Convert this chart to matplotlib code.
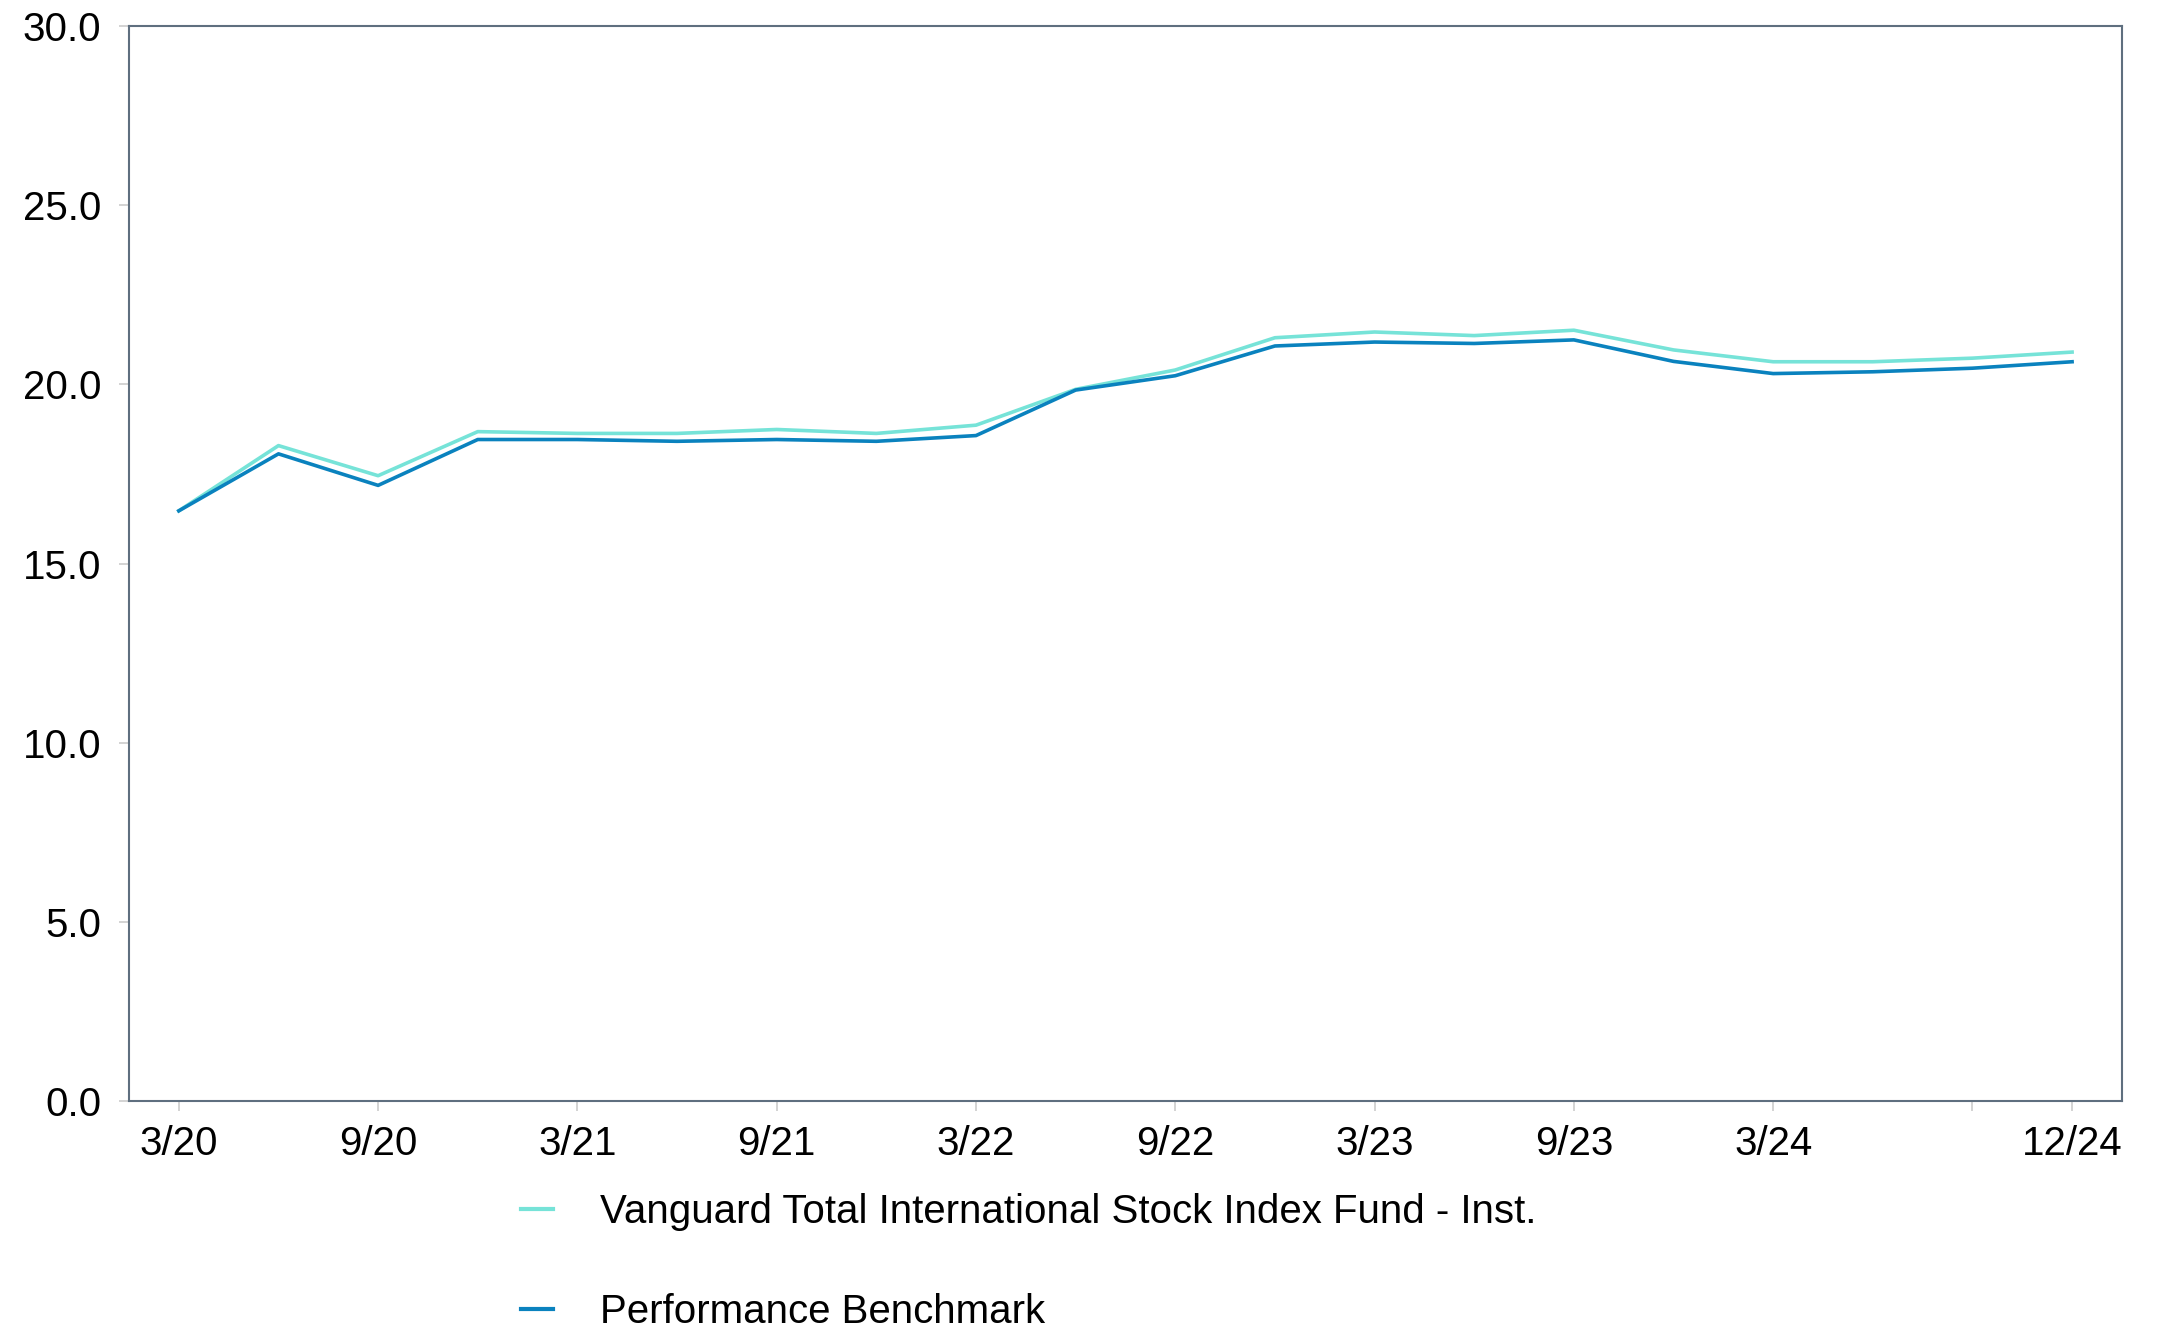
import matplotlib
matplotlib.use('Agg')
import matplotlib.pyplot as plt
import numpy as np

plt.rcParams['font.family'] = ['Liberation Sans', 'DejaVu Sans']

quarters = ['3/20', '6/20', '9/20', '12/20', '3/21', '6/21', '9/21', '12/21',
            '3/22', '6/22', '9/22', '12/22', '3/23', '6/23', '9/23', '12/23',
            '3/24', '6/24', '9/24', '12/24']
fund = [16.47, 18.29, 17.45, 18.68, 18.63, 18.63, 18.74, 18.63, 18.86, 19.86,
        20.40, 21.30, 21.46, 21.36, 21.51, 20.96, 20.63, 20.63, 20.73, 20.90]
bench = [16.47, 18.06, 17.18, 18.46, 18.46, 18.41, 18.46, 18.41, 18.57, 19.84,
         20.24, 21.07, 21.18, 21.14, 21.24, 20.64, 20.30, 20.35, 20.45, 20.63]
tick_labels = ['3/20', '9/20', '3/21', '9/21', '3/22', '9/22', '3/23', '9/23', '3/24', '', '12/24']
tick_idx = [0, 2, 4, 6, 8, 10, 12, 14, 16, 18, 19]

fund_color = '#76E3D8'
bench_color = '#0A82BE'
spine_color = '#5F6F7F'

fig = plt.figure(figsize=(21.79, 13.32), dpi=100)
ax = fig.add_axes([0.0592, 0.1734, 0.9146, 0.8071])

x = np.arange(len(quarters))
ax.plot(x, fund, color=fund_color, lw=2.6, label='Vanguard Total International Stock Index Fund - Inst.')
ax.plot(x, bench, color=bench_color, lw=2.6, label='Performance Benchmark')

ax.set_xlim(-0.5, 19.5)
ax.set_ylim(0, 30)
ax.set_yticks(np.arange(0, 30.1, 5))
ax.set_yticklabels(['%.1f' % v for v in np.arange(0, 30.1, 5)])
ax.set_xticks(tick_idx)
ax.set_xticklabels(tick_labels)

for s in ax.spines.values():
    s.set_color(spine_color)
    s.set_linewidth(1.5)

ax.tick_params(axis='both', colors='#CCCCCC', labelcolor='black', labelsize=29,
               length=7, width=1.2)
ax.tick_params(axis='y', pad=13)
ax.tick_params(axis='x', pad=10)

# legend sits below the axes, two rows
leg = fig.legend(loc='upper left', bbox_to_anchor=(0.239, 0.1045), frameon=False,
                 fontsize=29, handlelength=0.8, handletextpad=1.17,
                 labelspacing=1.55, borderaxespad=0, borderpad=0)
for line in leg.get_lines():
    line.set_linewidth(3)

fig.savefig('out.png', dpi=100)
